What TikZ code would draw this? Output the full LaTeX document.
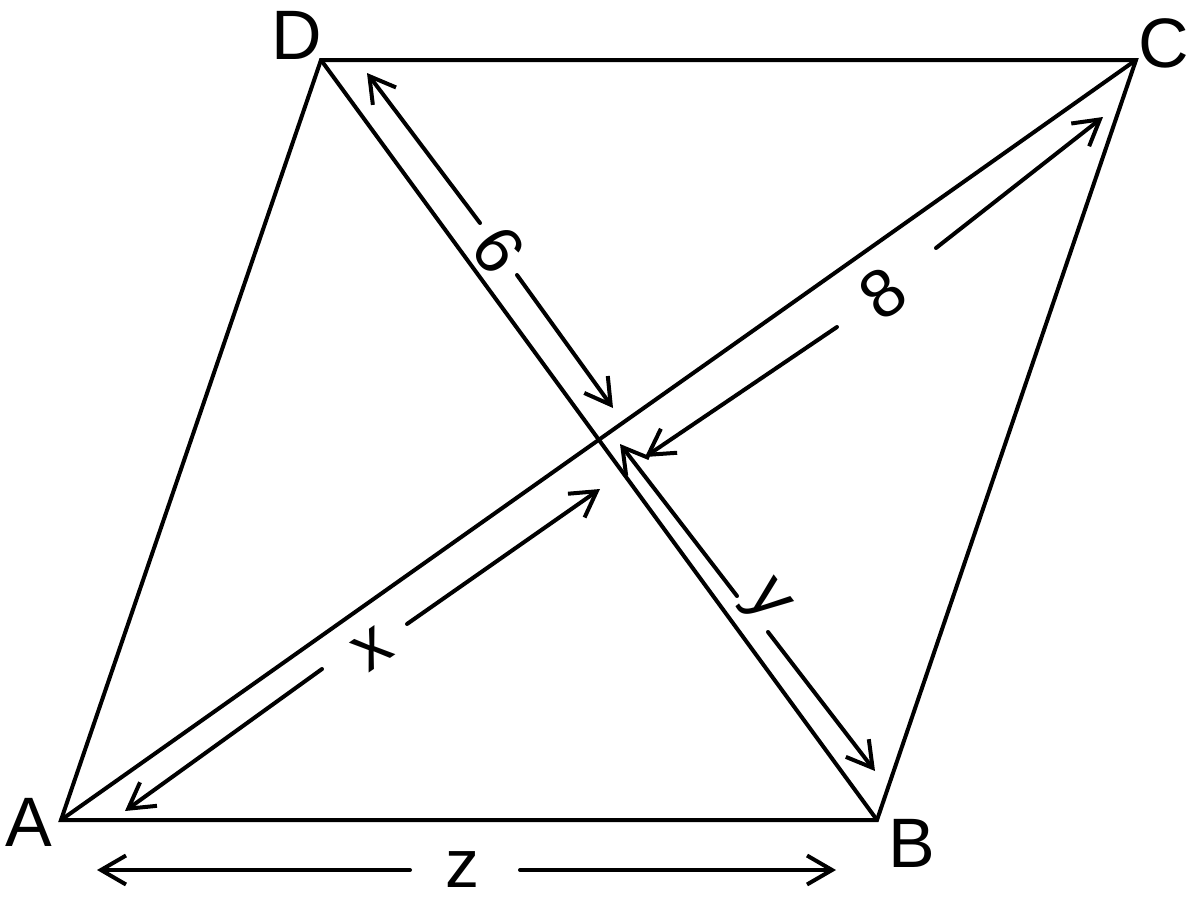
\documentclass[tikz,border=0pt]{standalone}
\usepackage{fontspec}
\setmainfont{Liberation Sans}
\usetikzlibrary{arrows.meta}
\begin{document}
\begin{tikzpicture}[x=1pt,y=-1pt,
  side/.style={line width=4pt, line join=miter},
  dimline/.style={line width=4pt, line cap=round},
  dimtip/.style={-{Straight Barb[length=25pt,width=29pt]}},
  vlabel/.style={inner sep=0pt, font=\fontsize{70}{70}\selectfont},
  dlabel/.style={inner sep=0pt, font=\fontsize{68}{68}\selectfont}]
\useasboundingbox (0,0) rectangle (1200,905);
% vertices
\coordinate (A) at (61,820);
\coordinate (B) at (877,820);
\coordinate (C) at (1136,60);
\coordinate (D) at (321,60);
% parallelogram and diagonals
\draw[side] (A) -- (B) -- (C) -- (D) -- cycle;
\draw[side] (A) -- (C);
\draw[side] (B) -- (D);
% vertex labels
\node[vlabel] (lA) at (29,822) {A};
\node[vlabel] (lB) at (912,843) {B};
\node[vlabel] (lC) at (1164,43) {C};
\node[vlabel] (lD) at (297,35) {D};
% dimension 6
\coordinate (s6a) at (367,73);
\coordinate (g6a) at (480,223);
\coordinate (g6b) at (517,275);
\coordinate (s6b) at (613,408);
\node[dlabel, rotate=-53.7] (l6) at (499,250) {6};
\draw[dimline,dimtip] (g6a) -- (s6a);
\draw[dimline,dimtip] (g6b) -- (s6b);
% dimension y
\coordinate (sya) at (620,444);
\coordinate (gya) at (737,596);
\coordinate (gyb) at (768,632);
\coordinate (syb) at (875,771);
\node[dlabel, rotate=-52.5] (ly) at (764,603) {y};
\draw[dimline,dimtip] (gya) -- (sya);
\draw[dimline,dimtip] (gyb) -- (syb);
% dimension 8
\coordinate (s8a) at (1103,117);
\coordinate (g8a) at (936,248);
\coordinate (g8b) at (837,327);
\coordinate (s8b) at (645,457);
\node[dlabel, rotate=36.3] (l8) at (883,293) {8};
\draw[dimline,dimtip] (g8a) -- (s8a);
\draw[dimline,dimtip] (g8b) -- (s8b);
% dimension x
\coordinate (sxa) at (600,489);
\coordinate (gxa) at (407,624);
\coordinate (gxb) at (322,669);
\coordinate (sxb) at (125,811);
\node[dlabel, rotate=34.5] (lx) at (372,649) {x};
\draw[dimline,dimtip] (gxa) -- (sxa);
\draw[dimline,dimtip] (gxb) -- (sxb);
% dimension z
\coordinate (sza) at (97,870);
\coordinate (gza) at (410,870);
\coordinate (gzb) at (520,870);
\coordinate (szb) at (836,870);
\node[dlabel] (lz) at (462,870) {z};
\draw[dimline,dimtip] (gza) -- (sza);
\draw[dimline,dimtip] (gzb) -- (szb);
\end{tikzpicture}
\end{document}
